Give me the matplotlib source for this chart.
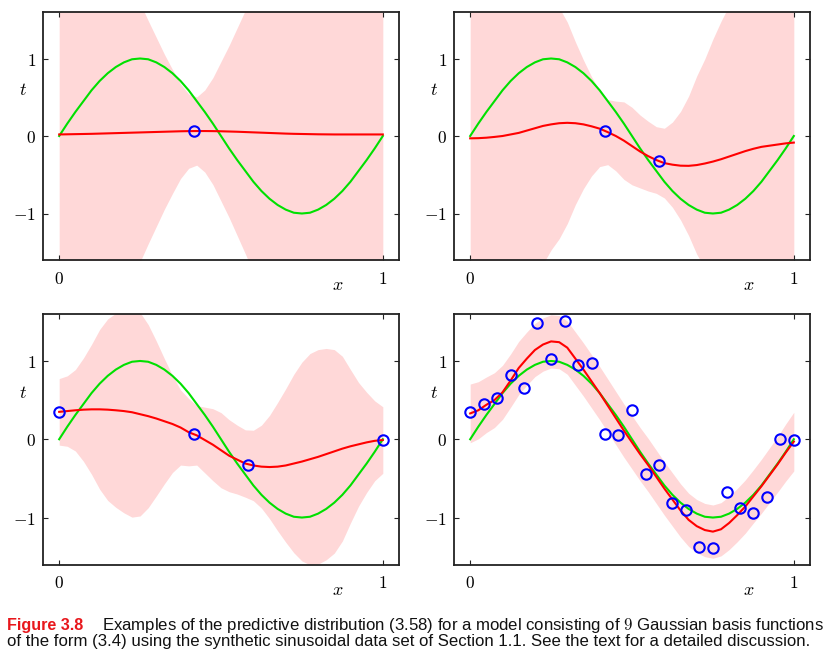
import numpy as np
import matplotlib
matplotlib.use("Agg")
import matplotlib.pyplot as plt

plt.rcParams['mathtext.fontset'] = 'cm'

# x grid on which the curves were read (step 0.025)
x_grid = np.linspace(0, 1, 41)

# green: true function
truth = [0.00, 0.16, 0.31, 0.45, 0.59, 0.71, 0.81, 0.89, 0.95, 0.99, 1.00,
         0.99, 0.95, 0.89, 0.81, 0.71, 0.59, 0.45, 0.31, 0.16, 0.00,
         -0.16, -0.31, -0.45, -0.59, -0.71, -0.81, -0.89, -0.95, -0.99, -1.00,
         -0.99, -0.95, -0.89, -0.81, -0.71, -0.59, -0.45, -0.31, -0.16, 0.00]

# panel 1: one data point
mean1 = [0.020, 0.022, 0.024, 0.026, 0.028, 0.031, 0.034, 0.037, 0.040, 0.043,
         0.046, 0.049, 0.052, 0.055, 0.058, 0.061, 0.063, 0.064, 0.064, 0.063,
         0.061, 0.058, 0.055, 0.051, 0.047, 0.043, 0.039, 0.035, 0.031, 0.028,
         0.026, 0.024, 0.022, 0.021, 0.020, 0.020, 0.020, 0.020, 0.020, 0.020, 0.020]
sd1 = [2.2, 2.2, 2.2, 2.2, 2.2, 2.2, 2.2, 2.2, 2.1, 1.90,
       1.67, 1.44, 1.22, 1.00, 0.80, 0.61, 0.48, 0.44, 0.53, 0.69,
       0.90, 1.11, 1.34, 1.57, 1.81, 2.05, 2.2, 2.2, 2.2, 2.2,
       2.2, 2.2, 2.2, 2.2, 2.2, 2.2, 2.2, 2.2, 2.2, 2.2, 2.2]
px1 = [0.417]
pt1 = [0.065]

# panel 2: two data points
mean2 = [-0.030, -0.028, -0.022, -0.012, 0.000, 0.020, 0.040, 0.070, 0.100, 0.130,
         0.150, 0.165, 0.170, 0.165, 0.150, 0.125, 0.095, 0.050, 0.000, -0.060,
         -0.130, -0.200, -0.260, -0.310, -0.350, -0.370, -0.383, -0.385, -0.375, -0.355,
         -0.330, -0.300, -0.265, -0.230, -0.195, -0.165, -0.140, -0.125, -0.110, -0.095, -0.085]
sd2 = [2.3, 2.3, 2.3, 2.3, 2.3, 2.3, 2.3, 2.3, 2.1, 1.78,
       1.62, 1.49, 1.30, 1.05, 0.83, 0.64, 0.49, 0.42, 0.45, 0.50,
       0.50, 0.47, 0.45, 0.43, 0.45, 0.55, 0.70, 0.90, 1.15, 1.35,
       1.58, 1.78, 1.95, 2.1, 2.3, 2.3, 2.3, 2.3, 2.3, 2.3, 2.3]
px2 = [0.417, 0.583]
pt2 = [0.065, -0.326]

# panel 3: four data points
mean3 = [0.350, 0.360, 0.370, 0.378, 0.382, 0.382, 0.378, 0.370, 0.360, 0.345,
         0.320, 0.295, 0.265, 0.230, 0.195, 0.150, 0.090, 0.050, -0.010, -0.070,
         -0.140, -0.210, -0.260, -0.310, -0.335, -0.350, -0.355, -0.350, -0.335, -0.310,
         -0.285, -0.255, -0.225, -0.190, -0.155, -0.120, -0.090, -0.065, -0.040, -0.020, -0.010]
sd3 = [0.425, 0.45, 0.52, 0.66, 0.83, 1.02, 1.16, 1.24, 1.30, 1.34,
       1.30, 1.17, 0.99, 0.80, 0.62, 0.48, 0.43, 0.38, 0.42, 0.46,
       0.48, 0.46, 0.44, 0.43, 0.45, 0.53, 0.66, 0.82, 0.98, 1.14,
       1.27, 1.35, 1.37, 1.35, 1.30, 1.18, 0.98, 0.79, 0.64, 0.51, 0.425]
px3 = [0.0, 0.417, 0.583, 1.0]
pt3 = [0.352, 0.065, -0.326, -0.013]

# panel 4: 25 data points
mean4 = [0.33, 0.37, 0.44, 0.50, 0.60, 0.75, 0.91, 1.03, 1.14, 1.21,
         1.25, 1.24, 1.17, 1.03, 0.89, 0.74, 0.59, 0.43, 0.27, 0.11,
         -0.04, -0.19, -0.33, -0.48, -0.63, -0.77, -0.91, -1.03, -1.11, -1.16,
         -1.18, -1.15, -1.07, -0.97, -0.86, -0.73, -0.60, -0.46, -0.32, -0.17, -0.03]
sd4 = [0.375, 0.365, 0.355, 0.35, 0.345] + [0.34] * 31 + [0.345, 0.35, 0.355, 0.365, 0.375]
px4 = [0.0, 0.042, 0.083, 0.125, 0.167, 0.208, 0.25, 0.292, 0.333, 0.375, 0.417, 0.458,
       0.5, 0.542, 0.583, 0.625, 0.667, 0.708, 0.75, 0.792, 0.833, 0.875, 0.917, 0.958, 1.0]
pt4 = [0.352, 0.447, 0.524, 0.82, 0.66, 1.485, 1.026, 1.51, 0.948, 0.974, 0.065, 0.05,
       0.38, -0.445, -0.326, -0.81, -0.905, -1.377, -1.385, -0.669, -0.883, -0.947,
       -0.733, 0.0, -0.013]

W, H = 834, 658
fig = plt.figure(figsize=(W / 100, H / 100), dpi=100)

# axes boxes in pixels: left, top, right, bottom
boxes = [(43, 12, 399, 260), (454, 12, 810, 260),
         (43, 314, 399, 564.5), (454, 314, 810, 564.5)]
panels = [(mean1, sd1, px1, pt1), (mean2, sd2, px2, pt2),
          (mean3, sd3, px3, pt3), (mean4, sd4, px4, pt4)]

for (l, t, r, b), (mean, sd, px, pt) in zip(boxes, panels):
    ax = fig.add_axes([l / W, 1 - b / H, (r - l) / W, (b - t) / H])
    mean = np.array(mean)
    sd = np.array(sd)
    ax.fill_between(x_grid, mean - sd, mean + sd, color="#ffd8d8", lw=0)
    ax.plot(x_grid, truth, color="#00e000", lw=1.5)
    ax.plot(x_grid, mean, color="#ff0000", lw=1.5)
    ax.plot(px, pt, "o", ms=7.5, mfc="none", mec="#0000ff", mew=1.5)

    ax.set_xlim(-0.05, 1.05)
    ax.set_ylim(-1.6, 1.6)
    ax.set_xticks([0, 1])
    ax.set_xticklabels(["$0$", "$1$"])
    ax.set_yticks([-1, 0, 1])
    ax.set_yticklabels(["$-1$", "$0$", "$1$"])
    ax.tick_params(direction="in", top=True, right=True, length=3.5,
                   width=0.8, labelsize=12.5, color="#222222")
    ax.tick_params(axis="x", pad=7)
    ax.tick_params(axis="y", pad=5)
    for s in ax.spines.values():
        s.set_linewidth(1.3)
        s.set_color("#222222")

    ax.text(-0.056, 0.685, "$t$", transform=ax.transAxes, fontsize=13,
            ha="center", va="center")
    ax.text(0.829, -0.10, "$x$", transform=ax.transAxes, fontsize=13,
            ha="center", va="center")

cap = dict(family="Liberation Sans", va="baseline")
fig.text(6.7 / W, 1 - 629.7 / H, "Figure 3.8", color="#e8171c",
         weight="bold", fontsize=11.6, **cap)
fig.text(101.7 / W, 1 - 629.7 / H,
         "Examples of the predictive distribution (3.58) for a model consisting of $9$ Gaussian basis functions",
         color="#111111", fontsize=12.1, **cap)
fig.text(6.7 / W, 1 - 645.7 / H,
         "of the form (3.4) using the synthetic sinusoidal data set of Section 1.1. See the text for a detailed discussion.",
         color="#111111", fontsize=12.1, **cap)

fig.savefig("out.png", dpi=100)
